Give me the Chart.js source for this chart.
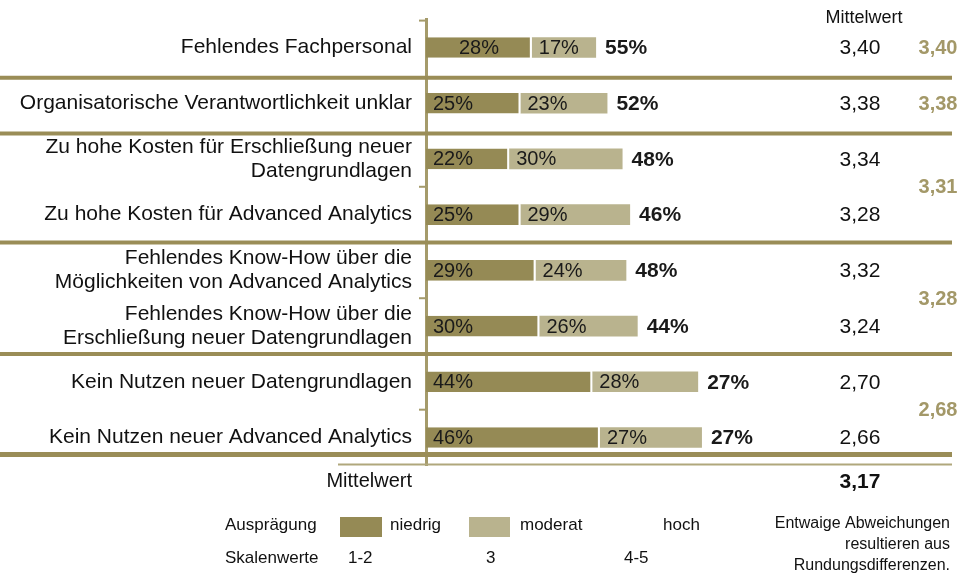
<!DOCTYPE html>
<html><head><meta charset="utf-8">
<script src="https://cdn.jsdelivr.net/npm/chart.js@4.4.0/dist/chart.umd.min.js"></script>
<style>html,body{margin:0;padding:0;background:#fff;} #wrap{width:967px;height:575px;position:relative;}</style>
</head><body><div id="wrap"><canvas id="c" width="967" height="575"></canvas></div>
<script>
const categories = [
  'Fehlendes Fachpersonal',
  'Organisatorische Verantwortlichkeit unklar',
  ['Zu hohe Kosten für Erschließung neuer', 'Datengrundlagen'],
  'Zu hohe Kosten für Advanced Analytics',
  ['Fehlendes Know-How über die', 'Möglichkeiten von Advanced Analytics'],
  ['Fehlendes Know-How über die', 'Erschließung neuer Datengrundlagen'],
  'Kein Nutzen neuer Datengrundlagen',
  'Kein Nutzen neuer Advanced Analytics'
];
const niedrig = [28, 25, 22, 25, 29, 30, 44, 46];
const moderat = [17, 23, 30, 29, 24, 26, 28, 27];
const hoch    = [55, 52, 48, 46, 48, 44, 27, 27];
const mittelwerte = ['3,40', '3,38', '3,34', '3,28', '3,32', '3,24', '2,70', '2,66'];
const gruppen = [[0, 0], [1, 1], [2, 3], [4, 5], [6, 7]];
const gruppenMittelwerte = ['3,40', '3,38', '3,31', '3,28', '2,68'];
const gesamtMittelwert = '3,17';
const seriesNames = ['niedrig', 'moderat', 'hoch'];
const skalenwerte = ['1-2', '3', '4-5'];
const noteLines = ['Entwaige Abweichungen', 'resultieren aus', 'Rundungsdifferenzen.'];

const FONT = '"Liberation Sans", Arial, sans-serif';
const DARK = '#958a55';
const LIGHT = '#b9b38e';
const LINE = '#9a8d57';
const GROUPTXT = '#a39868';

function txt(ctx, s, x, y, size, opts = {}) {
  ctx.save();
  ctx.font = (opts.bold ? 'bold ' : '') + size + 'px ' + FONT;
  ctx.fillStyle = opts.color || '#111';
  ctx.textAlign = opts.align || 'left';
  ctx.textBaseline = 'middle';
  ctx.fillText(s, x, y);
  ctx.restore();
}

const labelPlugin = {
  id: 'barLabels',
  afterDatasetsDraw(chart) {
    const ctx = chart.ctx;
    chart.data.datasets.forEach((ds, di) => {
      const meta = chart.getDatasetMeta(di);
      meta.data.forEach((el, i) => {
        const v = ds.data[i];
        const s = v + '%';
        if (di < 2) {
          if (di === 0 && i === 0) {
            txt(ctx, s, (el.base + el.x) / 2, el.y + 1, 20, {align: 'center', color: '#1a1a1a'});
          } else {
            txt(ctx, s, el.base + 7, el.y + 1, 20, {color: '#1a1a1a'});
          }
        } else {
          txt(ctx, s, el.base + 9, el.y + 1, 21, {bold: true, color: '#1a1a1a'});
        }
      });
    });
  }
};

const decorPlugin = {
  id: 'decor',
  afterDraw(chart) {
    const ctx = chart.ctx;
    const ys = chart.scales.y;
    const ca = chart.chartArea;
    const pix = i => ys.getPixelForValue(i);
    const step = pix(1) - pix(0);
    const n = categories.length;

    ctx.save();
    ctx.strokeStyle = LINE;
    ctx.lineWidth = 4;
    gruppen.forEach((g, gi) => {
      if (gi === gruppen.length - 1) return;
      const y = (pix(g[1]) + pix(g[1] + 1)) / 2 + (gi < 2 ? 2.5 : 0);
      ctx.beginPath(); ctx.moveTo(0, y); ctx.lineTo(952, y); ctx.stroke();
    });
    const yb = pix(n - 1) + step / 2;
    ctx.lineWidth = 5;
    ctx.beginPath(); ctx.moveTo(0, yb - 11); ctx.lineTo(952, yb - 11); ctx.stroke();
    ctx.strokeStyle = '#b0a77c';
    ctx.lineWidth = 2;
    ctx.beginPath(); ctx.moveTo(338, yb - 1); ctx.lineTo(952, yb - 1); ctx.stroke();
    ctx.strokeStyle = '#a59b6b';
    ctx.lineWidth = 2;
    const stubs = [ca.top + 1];
    gruppen.forEach(g => { for (let r = g[0]; r < g[1]; r++) stubs.push((pix(r) + pix(r + 1)) / 2); });
    stubs.forEach(y => { ctx.beginPath(); ctx.moveTo(419, y); ctx.lineTo(ca.left, y); ctx.stroke(); });
    ctx.restore();

    txt(ctx, 'Mittelwert', 864, 18, 18, {align: 'center'});
    mittelwerte.forEach((m, i) => txt(ctx, m, 860, pix(i) + 1, 21, {align: 'center'}));
    gruppen.forEach((g, gi) => {
      const y = (pix(g[0]) + pix(g[1])) / 2;
      txt(ctx, gruppenMittelwerte[gi], 938, y + 1, 20, {align: 'center', bold: true, color: GROUPTXT});
    });
    txt(ctx, 'Mittelwert', 412, 481, 20, {align: 'right'});
    txt(ctx, gesamtMittelwert, 860, 482, 21, {align: 'center', bold: true});

    txt(ctx, 'Ausprägung', 225, 525, 17);
    txt(ctx, 'Skalenwerte', 225, 558, 17);
    ctx.save();
    ctx.fillStyle = DARK; ctx.fillRect(340, 517, 42, 20);
    ctx.fillStyle = LIGHT; ctx.fillRect(469, 517, 41, 20);
    ctx.restore();
    const nameX = [390, 520, 663];
    seriesNames.forEach((s, i) => txt(ctx, s, nameX[i], 525, 17));
    const skX = [348, 486, 624];
    skalenwerte.forEach((s, i) => txt(ctx, s, skX[i], 558, 17));
    noteLines.forEach((s, i) => txt(ctx, s, 950, 524 + i * 21, 16, {align: 'right'}));
  }
};

new Chart(document.getElementById('c'), {
  type: 'bar',
  data: {
    labels: categories,
    datasets: [
      {label: seriesNames[0], data: niedrig, backgroundColor: DARK, borderColor: '#ffffff',
       borderWidth: {top: 0, right: 2, bottom: 0, left: 0}, borderSkipped: false},
      {label: seriesNames[1], data: moderat, backgroundColor: LIGHT, borderWidth: 0},
      {label: seriesNames[2], data: hoch, backgroundColor: 'rgba(255,255,255,0)', borderWidth: 0}
    ]
  },
  options: {
    indexAxis: 'y',
    responsive: false,
    animation: false,
    devicePixelRatio: 1,
    layout: {padding: {left: 0, top: 19.6, right: 163, bottom: 109.6}},
    datasets: {bar: {barPercentage: 0.37, categoryPercentage: 1}},
    plugins: {legend: {display: false}, tooltip: {enabled: false}},
    scales: {
      x: {stacked: true, min: 0, max: 100, display: false},
      y: {
        stacked: true,
        afterFit(scale) { scale.width = 426; scale.paddingTop = 0; scale.paddingBottom = 0; },
        grid: {display: false, drawTicks: false},
        border: {display: true, color: '#a59b6b', width: 3},
        ticks: {
          padding: 14,
          color: '#111',
          font: {family: FONT, size: 21, lineHeight: 1.15}
        }
      }
    }
  },
  plugins: [labelPlugin, decorPlugin]
});
</script>
</body></html>
